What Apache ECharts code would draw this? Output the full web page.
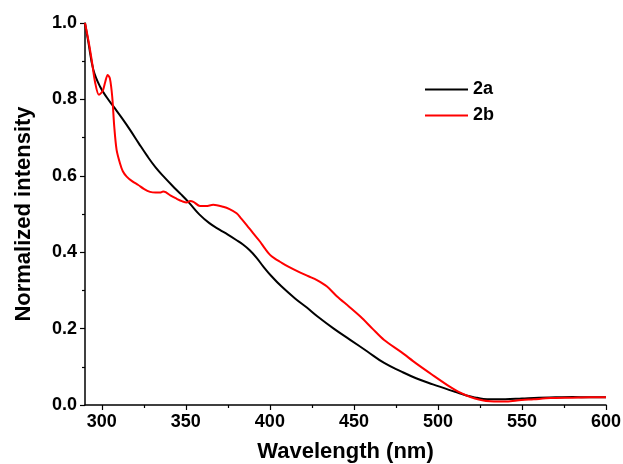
<!DOCTYPE html>
<html><head><meta charset="utf-8">
<script src="https://cdn.jsdelivr.net/npm/echarts@6/dist/echarts.min.js"></script>
<style>html,body{margin:0;padding:0;background:#fff}#c{width:623px;height:464px}</style>
</head><body><div id="c"></div>
<script>
const seriesNames = ['2a', '2b'];
const xMajorTicks = [300, 350, 400, 450, 500, 550, 600];
const xMinorTicks = [325, 375, 425, 475, 525, 575];
const wl2a = [290, 292, 295, 299, 303, 307, 312, 317, 322, 327, 332, 337, 342, 347, 352, 358, 364, 370, 375, 380, 384, 388, 392, 396, 401, 407, 415, 422, 428, 438, 448, 458, 468, 478, 487, 497, 507, 512, 517, 522, 527, 532, 540, 550, 560, 570, 580, 590, 600];
const int2a = [1.0, 0.95, 0.877, 0.833, 0.805, 0.781, 0.751, 0.719, 0.685, 0.652, 0.622, 0.597, 0.574, 0.552, 0.529, 0.499, 0.476, 0.459, 0.446, 0.432, 0.42, 0.405, 0.386, 0.363, 0.337, 0.31, 0.279, 0.255, 0.233, 0.2, 0.17, 0.14, 0.11, 0.088, 0.07, 0.054, 0.039, 0.032, 0.025, 0.02, 0.016, 0.015, 0.015, 0.017, 0.019, 0.02, 0.021, 0.02, 0.02];
const wl2b = [290, 292, 294, 296, 298.3, 300.5, 302, 303.5, 304.8, 306.2, 307.4, 308.8, 310.8, 312.5, 314.8, 318, 321.7, 325, 328.7, 332, 334.6, 336.5, 338, 341, 344.5, 348, 350.5, 352.5, 354.5, 358.4, 362, 366.3, 372.2, 376, 380.2, 383, 386.2, 390, 394.1, 397, 400.1, 403, 406, 411, 416.9, 423, 428, 434, 440, 447, 454, 461, 468, 478, 487, 497, 507, 512, 517, 522, 527, 531, 535, 540, 547, 557, 567, 580, 590, 600];
const int2b = [1.0, 0.955, 0.903, 0.845, 0.812, 0.822, 0.845, 0.864, 0.855, 0.807, 0.729, 0.668, 0.633, 0.612, 0.598, 0.586, 0.576, 0.566, 0.558, 0.556, 0.556, 0.559, 0.557, 0.548, 0.54, 0.533, 0.53, 0.534, 0.532, 0.521, 0.521, 0.524, 0.519, 0.513, 0.502, 0.488, 0.471, 0.45, 0.428, 0.41, 0.393, 0.383, 0.375, 0.362, 0.349, 0.337, 0.327, 0.31, 0.284, 0.258, 0.231, 0.2, 0.17, 0.139, 0.109, 0.078, 0.048, 0.035, 0.025, 0.017, 0.012, 0.01, 0.009, 0.009, 0.012, 0.015, 0.018, 0.019, 0.02, 0.02];

const zip = (xs, ys) => xs.map((x, i) => [x, ys[i]]);
const font = '"Liberation Sans", Arial, sans-serif';
const chart = echarts.init(document.getElementById('c'));
const axisLine = {show: true, lineStyle: {color: '#000', width: 1.5}};
chart.setOption({
  animation: false,
  grid: {left: 85, right: 17, top: 23, bottom: 59, outerBoundsMode: 'none', containLabel: false},
  legend: {
    orient: 'vertical', left: 420, top: 75, itemWidth: 43, itemHeight: 2, itemGap: 7,
    icon: 'rect',
    textStyle: {fontFamily: font, fontWeight: 'bold', fontSize: 18, color: '#000', lineHeight: 19},
    data: seriesNames
  },
  xAxis: [{
    type: 'value', min: 290, max: 600,
    name: 'Wavelength (nm)', nameLocation: 'middle', nameGap: 36,
    nameTextStyle: {fontFamily: font, fontWeight: 'bold', fontSize: 22, color: '#000'},
    axisLine: axisLine,
    axisTick: {show: true, length: 5, lineStyle: {color: '#000', width: 1.2}, customValues: xMajorTicks},
    axisLabel: {customValues: xMajorTicks, fontFamily: font, fontWeight: 'bold', fontSize: 18, color: '#000', margin: 8},
    splitLine: {show: false}
  }, {
    type: 'value', min: 290, max: 600, position: 'bottom',
    axisLine: {show: false},
    axisTick: {show: true, length: 3, lineStyle: {color: '#000', width: 1.2}, customValues: xMinorTicks},
    axisLabel: {show: false},
    splitLine: {show: false}
  }],
  yAxis: {
    type: 'value', min: 0, max: 1, interval: 0.2,
    name: 'Normalized intensity', nameLocation: 'middle', nameGap: 50,
    nameTextStyle: {fontFamily: font, fontWeight: 'bold', fontSize: 22, color: '#000'},
    axisLine: axisLine,
    axisTick: {show: true, length: 5, lineStyle: {color: '#000', width: 1.2}},
    minorTick: {show: true, splitNumber: 2, length: 3, lineStyle: {color: '#000', width: 1.2}},
    axisLabel: {fontFamily: font, fontWeight: 'bold', fontSize: 18, color: '#000', margin: 8, formatter: v => v.toFixed(1)},
    splitLine: {show: false}
  },
  series: [
    {name: seriesNames[0], type: 'line', data: zip(wl2a, int2a), smooth: 0.4, showSymbol: false, lineStyle: {color: '#000', width: 2}, itemStyle: {color: '#000'}},
    {name: seriesNames[1], type: 'line', data: zip(wl2b, int2b), smooth: 0.3, showSymbol: false, lineStyle: {color: '#ff0000', width: 2}, itemStyle: {color: '#ff0000'}}
  ]
});
</script></body></html>
